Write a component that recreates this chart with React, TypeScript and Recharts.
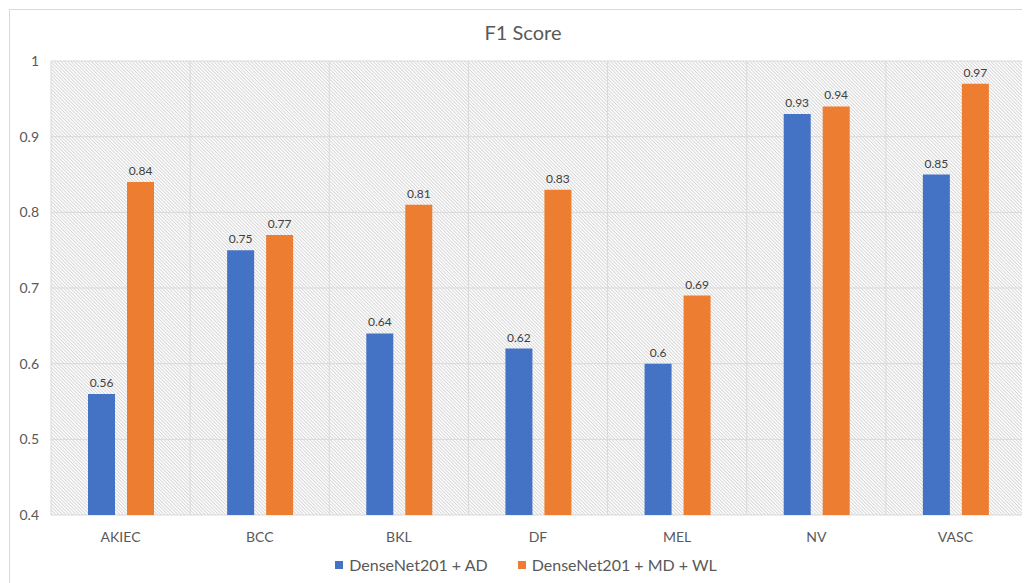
import React from "react";
import { BarChart, Bar, XAxis, YAxis, CartesianGrid, LabelList } from "recharts";

const categories = ["AKIEC", "BCC", "BKL", "DF", "MEL", "NV", "VASC"];
const seriesAD = [0.56, 0.75, 0.64, 0.62, 0.6, 0.93, 0.85];
const seriesMDWL = [0.84, 0.77, 0.81, 0.83, 0.69, 0.94, 0.97];
const yTicks = [0.4, 0.5, 0.6, 0.7, 0.8, 0.9, 1];
const seriesNames = ["DenseNet201 + AD", "DenseNet201 + MD + WL"];
const colors = ["#4472C4", "#ED7D31"];

const data = categories.map((c, i) => ({ name: c, ad: seriesAD[i], mdwl: seriesMDWL[i] }));

const FONT = "Lato, 'Open Sans', sans-serif";

const LegendContent = () => (
  <div style={{ display: "flex", justifyContent: "center", gap: 30, fontFamily: FONT, fontSize: 16, color: "#595959" }}>
    {seriesNames.map((n, i) => (
      <div key={n} style={{ display: "flex", alignItems: "center" }}>
        <span style={{ display: "inline-block", width: 8, height: 8, background: colors[i], marginRight: 6 }} />
        <span>{n}</span>
      </div>
    ))}
  </div>
);

export default function App() {
  return (
    <div style={{ position: "relative", width: 1022, height: 575, fontFamily: FONT }}>
      <svg width={0} height={0} style={{ position: "absolute" }}>
        <defs>
          <pattern id="hatch" patternUnits="userSpaceOnUse" width={6} height={2.4} patternTransform="rotate(45)">
            <rect width={6} height={2.4} fill="#ffffff" />
            <line x1={0} y1={0.5} x2={6} y2={0.5} stroke="#d2d2d2" strokeWidth={0.9} />
          </pattern>
        </defs>
      </svg>
      <div style={{ position: "absolute", left: 1, top: 1, width: 1030, height: 600, borderLeft: "1px solid #d9d9d9", borderTop: "1px solid #d9d9d9" }} />
      <div style={{ position: "absolute", left: 0, top: 12, width: 1030, textAlign: "center", fontSize: 20, color: "#595959", fontFamily: FONT }}>
        F1 Score
      </div>
      <BarChart
        width={1022}
        height={575}
        data={data}
        margin={{ top: 53, right: 5, bottom: 38, left: 0 }}
        barGap={12}
        barSize={27}
        style={{ position: "absolute", left: 0, top: 0 }}
      >
        <CartesianGrid
          stroke="#d9d9d9"
          fill="url(#hatch)"
          fillOpacity={1}
          verticalCoordinatesGenerator={({ offset }: any) =>
            categories.map((_, i) => offset.left + (i * offset.width) / categories.length).concat([offset.left + offset.width])
          }
        />
        <XAxis
          dataKey="name"
          axisLine={false}
          tickLine={false}
          height={30}
          tick={{ fill: "#595959", fontSize: 14, fontFamily: FONT }}
          tickMargin={11}
          interval={0}
        />
        <YAxis
          domain={[0.4, 1]}
          ticks={yTicks}
          axisLine={false}
          tickLine={false}
          width={43}
          tickMargin={6}
          tick={{ fill: "#595959", fontSize: 14, fontFamily: FONT }}
          tickFormatter={(v: number) => String(Math.round(v * 10) / 10)}
        />
        <Bar dataKey="ad" name={seriesNames[0]} fill={colors[0]} isAnimationActive={false}>
          <LabelList dataKey="ad" position="top" offset={7} style={{ fill: "#404040", fontSize: 12, fontFamily: FONT }} />
        </Bar>
        <Bar dataKey="mdwl" name={seriesNames[1]} fill={colors[1]} isAnimationActive={false}>
          <LabelList dataKey="mdwl" position="top" offset={7} style={{ fill: "#404040", fontSize: 12, fontFamily: FONT }} />
        </Bar>
      </BarChart>
      <div style={{ position: "absolute", left: 0, top: 547, width: 1036 }}>
        <LegendContent />
      </div>
    </div>
  );
}
